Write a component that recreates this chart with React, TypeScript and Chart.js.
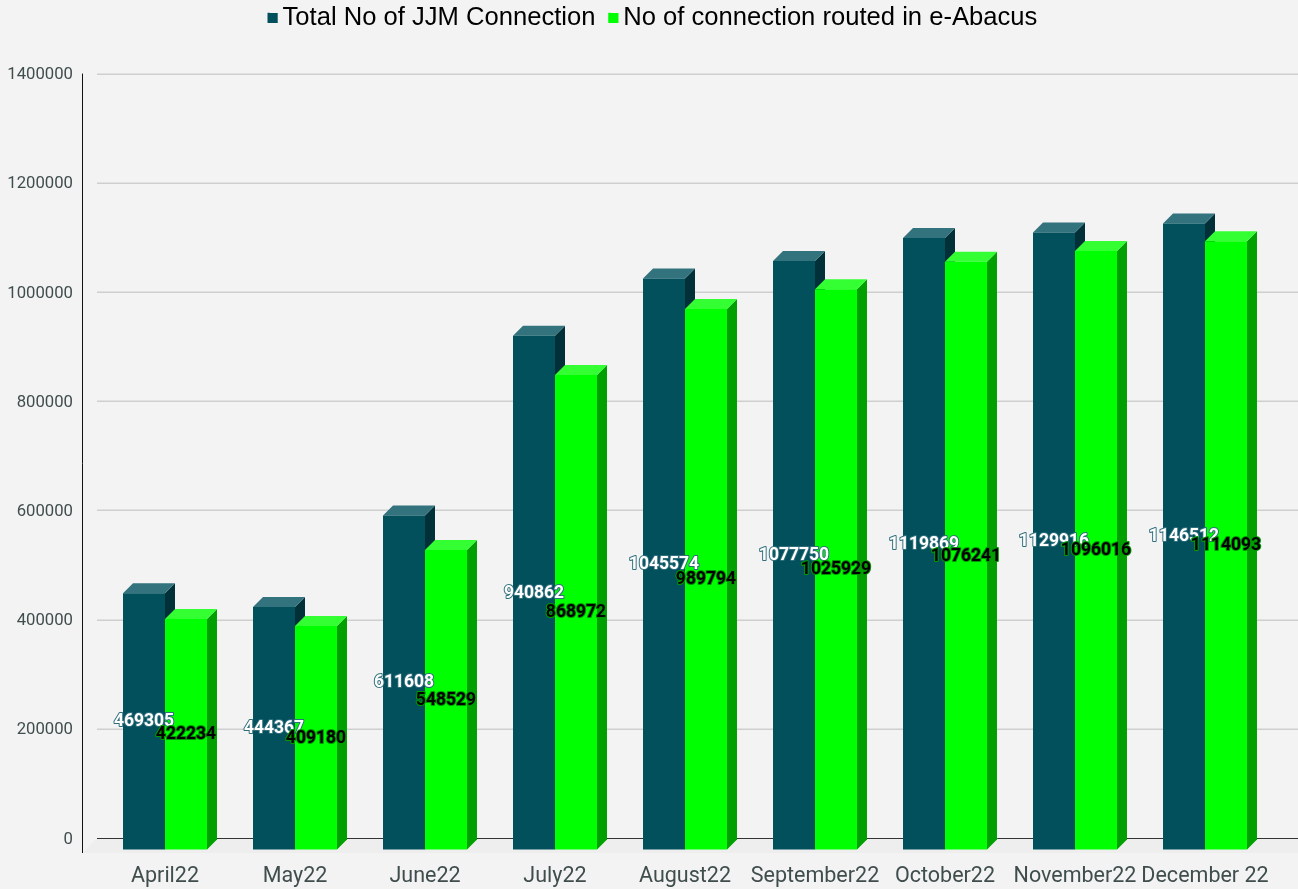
import React, { useEffect, useRef } from "react";
import { Chart, registerables } from "chart.js";

Chart.register(...registerables);

const categories = ["April22", "May22", "June22", "July22", "August22", "September22", "October22", "November22", "December 22"];
const totalConnections = [469305, 444367, 611608, 940862, 1045574, 1077750, 1119869, 1129916, 1146512];
const routedConnections = [422234, 409180, 548529, 868972, 989794, 1025929, 1076241, 1096016, 1114093];
const seriesNames = ["Total No of JJM Connection", "No of connection routed in e-Abacus"];

const BG = "#f3f3f3";
const DEPTH = 10;
const DROP = 11.5;
const faces = [
  { front: "#01505c", top: "#33737d", side: "#013039", label: "#ffffff", halo: "#2f6f7c" },
  { front: "#00ff00", top: "#33ff33", side: "#00a000", label: "#000000", halo: "#009a00" },
];

const threeD = {
  id: "threeD",
  afterLayout(chart: any) {
    const lg = chart.legend;
    const shift = 17.5;
    lg.left += shift;
    lg.right += shift;
    lg.top = -8;
    lg.adjustHitBoxes();
    const yS = chart.scales.y;
    if (!yS.__shifted) {
      const orig = yS.drawLabels;
      yS.drawLabels = function (area: any) {
        this.ctx.save();
        this.ctx.translate(0, 1.5);
        orig.call(this, area);
        this.ctx.restore();
      };
      yS.__shifted = true;
    }
  },
  beforeDatasetsDraw(chart: any) {
    const { ctx, scales } = chart;
    const yS = scales.y;
    const zero = yS.getPixelForValue(0);
    const axisX = 82.5;
    const gridLeft = 97;
    ctx.save();
    ctx.fillStyle = "#eeeeee";
    ctx.beginPath();
    ctx.moveTo(axisX, zero + 15);
    ctx.lineTo(gridLeft, zero);
    ctx.lineTo(chart.width, zero);
    ctx.lineTo(chart.width, zero + 15);
    ctx.closePath();
    ctx.fill();
    yS.ticks.forEach((t: any) => {
      const py = yS.getPixelForValue(t.value);
      const isZero = t.value === 0;
      const y = isZero ? Math.round(py) + 0.5 : Math.round(py) + 0.25;
      ctx.strokeStyle = isZero ? "#333333" : "#cfcfcf";
      ctx.lineWidth = isZero ? 1 : 1.5;
      ctx.beginPath();
      ctx.moveTo(gridLeft, y);
      ctx.lineTo(chart.width, y);
      ctx.stroke();
    });
    ctx.strokeStyle = "#111111";
    ctx.lineWidth = 1;
    ctx.beginPath();
    ctx.moveTo(axisX, yS.top);
    ctx.lineTo(axisX, zero + 15);
    ctx.stroke();
    [0, 1].forEach((i) => {
      const f = faces[i];
      chart.getDatasetMeta(i).data.forEach((el: any) => {
        const p = el.getProps(["x", "y", "base", "width"], true);
        const l = p.x - p.width / 2;
        const r = p.x + p.width / 2;
        const t = p.y + DROP;
        const b = p.base + DROP;
        ctx.fillStyle = f.side;
        ctx.beginPath();
        ctx.moveTo(r, t);
        ctx.lineTo(r + DEPTH, t - DEPTH);
        ctx.lineTo(r + DEPTH, b - DEPTH);
        ctx.lineTo(r, b);
        ctx.closePath();
        ctx.fill();
        ctx.fillStyle = f.top;
        ctx.beginPath();
        ctx.moveTo(l, t);
        ctx.lineTo(l + DEPTH, t - DEPTH);
        ctx.lineTo(r + DEPTH, t - DEPTH);
        ctx.lineTo(r, t);
        ctx.closePath();
        ctx.fill();
      });
    });
    ctx.restore();
  },
  beforeDatasetDraw(chart: any) {
    chart.ctx.save();
    chart.ctx.translate(0, DROP);
  },
  afterDatasetDraw(chart: any) {
    chart.ctx.restore();
  },
  afterDatasetsDraw(chart: any) {
    const { ctx } = chart;
    ctx.save();
    ctx.font = "700 17.5px Roboto";
    ctx.textAlign = "center";
    ctx.textBaseline = "middle";
    ctx.lineJoin = "round";
    [0, 1].forEach((i) => {
      const f = faces[i];
      const values = chart.data.datasets[i].data;
      chart.getDatasetMeta(i).data.forEach((el: any, k: number) => {
        const p = el.getProps(["x", "y", "base"], true);
        const y = (p.y + p.base) / 2 + DROP + 0.5;
        const s = String(values[k]);
        ctx.lineWidth = 2;
        ctx.strokeStyle = f.halo;
        ctx.strokeText(s, p.x, y);
        ctx.fillStyle = f.label;
        ctx.fillText(s, p.x, y);
      });
    });
    ctx.restore();
  },
  afterDraw(chart: any) {
    const { ctx, legend } = chart;
    ctx.save();
    legend.legendHitBoxes.forEach((h: any, i: number) => {
      ctx.fillStyle = faces[i].front;
      ctx.fillRect(h.left, 13, 10, 10);
    });
    ctx.restore();
  },
};

export default function App() {
  const ref = useRef<HTMLCanvasElement | null>(null);
  useEffect(() => {
    document.body.style.margin = "0";
    document.body.style.background = BG;
    const chart = new Chart(ref.current as HTMLCanvasElement, {
      type: "bar",
      data: {
        labels: categories,
        datasets: [
          { label: seriesNames[0], data: totalConnections, backgroundColor: faces[0].front, clip: false as any },
          { label: seriesNames[1], data: routedConnections, backgroundColor: faces[1].front, clip: false as any },
        ],
      },
      options: {
        responsive: false,
        animation: false,
        devicePixelRatio: 1,
        layout: { padding: { top: 25, right: 28, left: 0, bottom: 0 } },
        datasets: { bar: { categoryPercentage: 0.646, barPercentage: 1 } },
        plugins: {
          tooltip: { enabled: false },
          legend: {
            position: "top",
            labels: {
              boxWidth: 2,
              boxHeight: 10,
              padding: 13,
              color: "#000000",
              font: { family: "'Liberation Sans'", size: 25.6 },
            },
          },
        },
        scales: {
          x: {
            grid: { display: false },
            border: { display: false },
            afterFit: (s: any) => { s.height = 51; },
            ticks: {
              autoSkip: false,
              maxRotation: 0,
              padding: 18,
              color: "#404d4d",
              font: { family: "Roboto", size: 21.5 },
            },
          },
          y: {
            min: 0,
            max: 1400000,
            grid: { display: false },
            border: { display: false },
            afterFit: (s: any) => { s.width = 100; },
            ticks: {
              stepSize: 200000,
              padding: 19,
              color: "#404d4d",
              font: { family: "Roboto", size: 16.7 },
              callback: (v: any) => String(v),
            },
          },
        },
      },
      plugins: [threeD],
    } as any);
    return () => chart.destroy();
  }, []);
  return (
    <div style={{ position: "fixed", left: 0, top: 0, width: 1298, height: 889, background: BG }}>
      <canvas ref={ref} width={1298} height={889} style={{ display: "block" }} />
    </div>
  );
}
